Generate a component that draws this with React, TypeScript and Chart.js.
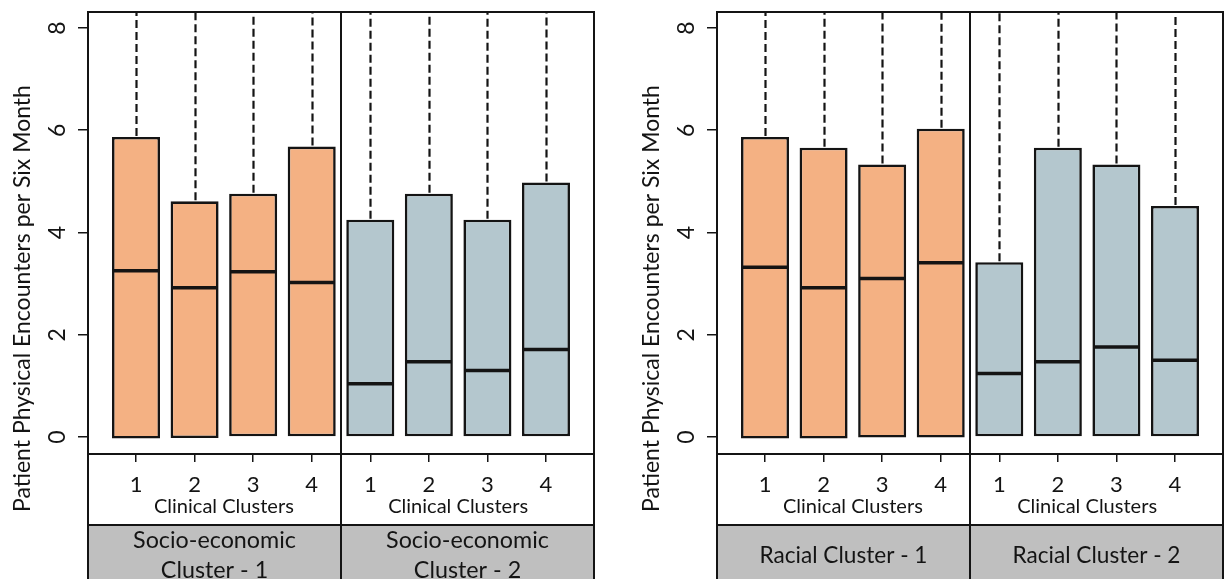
import React, { useEffect, useRef } from 'react';
import { Chart, registerables } from 'chart.js';

Chart.register(...registerables);

// ---------- data ----------
const boxPositions = [1, 2, 3, 4, 5, 6, 7, 8];
const clusterTickLabels = ['1', '2', '3', '4', '1', '2', '3', '4'];
const yTickValues = [0, 2, 4, 6, 8];
const yTickLabels = ['0', '2', '4', '6', '8'];
const groupCenters = [2.5, 6.5];
const groupDivider = 4.5;

const socioQ1 = [-0.03, -0.02, 0, 0, 0, 0, 0, 0];
const socioQ3 = [5.87, 4.61, 4.76, 5.68, 4.25, 4.76, 4.25, 4.98];
const socioMedian = [3.25, 2.92, 3.23, 3.02, 1.04, 1.47, 1.3, 1.71];
const socioWhiskerMax = [9.6, 9.2, 9.3, 9.5, 9.1, 9.4, 9.0, 9.3];

const racialQ1 = [-0.03, -0.03, -0.01, -0.01, 0, 0, 0, 0];
const racialQ3 = [5.87, 5.66, 5.33, 6.03, 3.42, 5.66, 5.33, 4.52];
const racialMedian = [3.32, 2.92, 3.1, 3.41, 1.24, 1.47, 1.76, 1.5];
const racialWhiskerMax = [9.5, 9.3, 9.1, 9.6, 9.0, 9.4, 9.2, 9.1];

const socioGroups = [
  ['Socio-economic', 'Cluster - 1'],
  ['Socio-economic', 'Cluster - 2'],
];
const racialGroups = [['Racial Cluster - 1'], ['Racial Cluster - 2']];
const clinicalTitle = 'Clinical Clusters';
const yAxisTitle = 'Patient Physical Encounters per Six Month';

// ---------- style ----------
const ORANGE = '#F4B183';
const BLUEGRAY = '#B4C7CE';
const STRIP_GRAY = '#BFBFBF';
const INK = '#141414';
const FONT = 'Lato';
const boxColors = [ORANGE, ORANGE, ORANGE, ORANGE, BLUEGRAY, BLUEGRAY, BLUEGRAY, BLUEGRAY];

const W = 615;
const H = 579;
const TOP = 12;
const PLOT_BOTTOM = 454;
const STRIP_SPLIT = 525;
const X_MIN = 0.18;
const X_MAX = 8.82;
const Y_MIN = -0.333;
const Y_MAX = 8.313;

type PanelProps = {
  q1: number[];
  q3: number[];
  median: number[];
  whisker: number[];
  groups: string[][];
  groupFitWidth: number;
  chartLeft: number;
  chartRight: number;
};

function Panel({ q1, q3, median, whisker, groups, groupFitWidth, chartLeft, chartRight }: PanelProps) {
  const ref = useRef<HTMLCanvasElement>(null);

  useEffect(() => {
    const canvas = ref.current!;
    const c2 = canvas.getContext('2d')!;
    const fit = (text: string, target: number) => {
      c2.font = `100px ${FONT}`;
      return (100 * target) / c2.measureText(text).width;
    };
    const titleSize = fit(yAxisTitle, 427);
    const clinSize = fit(clinicalTitle, 140);
    const groupSize = fit(groups[0][0], groupFitWidth);

    const line = (ctx: CanvasRenderingContext2D, x1: number, y1: number, x2: number, y2: number) => {
      ctx.beginPath();
      ctx.moveTo(x1, y1);
      ctx.lineTo(x2, y2);
      ctx.stroke();
    };

    const decor = {
      id: 'decor',
      beforeDraw(chart: any) {
        const { ctx, chartArea: a } = chart;
        ctx.save();
        ctx.fillStyle = '#ffffff';
        ctx.fillRect(0, 0, W, H);
        ctx.fillStyle = STRIP_GRAY;
        ctx.fillRect(a.left, STRIP_SPLIT, a.right - a.left, H - STRIP_SPLIT);
        ctx.restore();
      },
      afterDatasetsDraw(chart: any) {
        const { ctx, chartArea: a } = chart;
        const x = chart.scales.x;
        const y = chart.scales.y;
        const meta = chart.getDatasetMeta(0);
        ctx.save();
        ctx.beginPath();
        ctx.rect(a.left, a.top, a.right - a.left, a.bottom - a.top);
        ctx.clip();
        ctx.strokeStyle = INK;
        ctx.lineWidth = 2.2;
        ctx.setLineDash([8, 4]);
        boxPositions.forEach((p, i) => {
          const px = Math.round(x.getPixelForValue(p)) + 0.5;
          line(ctx, px, y.getPixelForValue(q3[i]) - 1, px, y.getPixelForValue(whisker[i]));
        });
        ctx.setLineDash([]);
        ctx.lineWidth = 3.5;
        meta.data.forEach((bar: any, i: number) => {
          const { x: bx, width } = bar.getProps(['x', 'width'], true);
          const py = y.getPixelForValue(median[i]);
          line(ctx, bx - width / 2 + 1, py, bx + width / 2 - 1, py);
        });
        ctx.restore();
      },
      afterDraw(chart: any) {
        const { ctx, chartArea: a } = chart;
        const x = chart.scales.x;
        const y = chart.scales.y;
        const div = x.getPixelForValue(groupDivider);
        ctx.save();
        ctx.strokeStyle = INK;
        ctx.lineWidth = 2;
        ctx.strokeRect(a.left, a.top, a.right - a.left, a.bottom - a.top);
        line(ctx, a.left, a.bottom, a.left, H);
        line(ctx, a.right, a.bottom, a.right, H);
        line(ctx, div, a.top, div, H);
        line(ctx, a.left, STRIP_SPLIT, a.right, STRIP_SPLIT);

        ctx.fillStyle = INK;
        ctx.textAlign = 'center';
        ctx.textBaseline = 'alphabetic';
        ctx.font = `${clinSize}px ${FONT}`;
        groupCenters.forEach((g) => ctx.fillText(clinicalTitle, x.getPixelForValue(g), 513));

        ctx.font = `${groupSize}px ${FONT}`;
        const centers = [(a.left + div) / 2, (div + a.right) / 2];
        groups.forEach((lines, g) => {
          const baselines = lines.length === 2 ? [548, 578] : [563];
          lines.forEach((t, k) => ctx.fillText(t, centers[g], baselines[k]));
        });

        ctx.font = `23px ${FONT}`;
        yTickValues.forEach((v, i) => {
          const py = y.getPixelForValue(v);
          ctx.save();
          ctx.translate(a.left - 23, py);
          ctx.rotate(-Math.PI / 2);
          ctx.fillText(yTickLabels[i], 0, 0);
          ctx.restore();
        });

        ctx.font = `${titleSize}px ${FONT}`;
        ctx.save();
        ctx.translate(a.left - 58, 298.5);
        ctx.rotate(-Math.PI / 2);
        ctx.fillText(yAxisTitle, 0, 0);
        ctx.restore();
        ctx.restore();
      },
    };

    const chart = new Chart(canvas, {
      type: 'bar',
      data: {
        datasets: [
          {
            data: boxPositions.map((p, i) => ({ x: p, y: [q1[i], q3[i]] })) as any,
            backgroundColor: boxColors,
            borderColor: INK,
            borderWidth: 2.6,
            borderSkipped: false,
            barPercentage: 0.82,
            categoryPercentage: 1,
          },
        ],
      },
      options: {
        responsive: false,
        animation: false,
        devicePixelRatio: 1,
        layout: { padding: { left: 0, right: W - chartRight, top: TOP, bottom: 0 } },
        plugins: { legend: { display: false }, tooltip: { enabled: false } },
        scales: {
          x: {
            type: 'linear',
            min: X_MIN,
            max: X_MAX,
            offset: false,
            afterBuildTicks: (s: any) => {
              s.ticks = boxPositions.map((v) => ({ value: v }));
            },
            afterFit: (s: any) => {
              s.height = H - PLOT_BOTTOM;
            },
            grid: {
              display: true,
              drawOnChartArea: false,
              drawTicks: true,
              tickLength: 8,
              color: INK,
              lineWidth: 1.5,
              offset: false,
            },
            border: { display: false },
            ticks: {
              autoSkip: false,
              maxRotation: 0,
              minRotation: 0,
              padding: 10,
              color: INK,
              font: { family: FONT, size: 22 },
              callback: (_v: any, i: number) => clusterTickLabels[i],
            },
          },
          y: {
            type: 'linear',
            min: Y_MIN,
            max: Y_MAX,
            afterBuildTicks: (s: any) => {
              s.ticks = yTickValues.map((v) => ({ value: v }));
            },
            afterFit: (s: any) => {
              s.width = chartLeft;
            },
            grid: {
              display: true,
              drawOnChartArea: false,
              drawTicks: true,
              tickLength: 10,
              color: INK,
              lineWidth: 1.5,
            },
            border: { display: false },
            ticks: { display: false },
          },
        },
      } as any,
      plugins: [decor],
    });
    return () => chart.destroy();
  }, []);

  return <canvas ref={ref} width={W} height={H} style={{ display: 'block', width: W, height: H }} />;
}

export default function App() {
  return (
    <div style={{ position: 'absolute', left: 0, top: 0, width: 1230, height: 579, display: 'flex', background: '#fff', overflow: 'hidden' }}>
      <Panel
        q1={socioQ1}
        q3={socioQ3}
        median={socioMedian}
        whisker={socioWhiskerMax}
        groups={socioGroups}
        groupFitWidth={163}
        chartLeft={88}
        chartRight={594}
      />
      <Panel
        q1={racialQ1}
        q3={racialQ3}
        median={racialMedian}
        whisker={racialWhiskerMax}
        groups={racialGroups}
        groupFitWidth={168}
        chartLeft={102}
        chartRight={608}
      />
    </div>
  );
}
